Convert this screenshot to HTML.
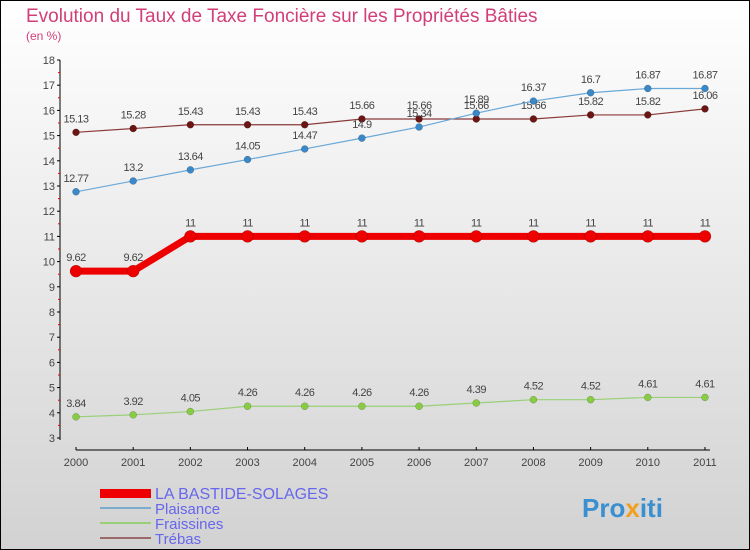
<!DOCTYPE html>
<html><head><meta charset="utf-8"><style>
body{margin:0}
#c{width:750px;height:550px;position:relative;overflow:hidden;font-family:"Liberation Sans",sans-serif}
svg text{font-family:"Liberation Sans",sans-serif}
</style></head><body>
<div id="c">
<svg id="s" width="750" height="550" xmlns="http://www.w3.org/2000/svg">
<defs><linearGradient id="bg" x1="0" y1="0" x2="0" y2="1"><stop offset="0" stop-color="#ffffff"/><stop offset="1" stop-color="#d2d2d2"/></linearGradient></defs>
<rect x="0.5" y="0.5" width="749" height="549" fill="url(#bg)" stroke="#000"/>
<text x="26" y="22" font-size="19" fill="#d23e78">Evolution du Taux de Taxe Foncière sur les Propriétés Bâties</text>
<text x="26" y="40" font-size="12" fill="#d23e78">(en %)</text>
<g id="axes"></g><g id="series"></g>
<g>
<rect x="100" y="489" width="51" height="9" fill="#e00"/>
<text x="155" y="499" font-size="16" fill="#6666ee">LA BASTIDE-SOLAGES</text>
<line x1="100" y1="508" x2="151" y2="508" stroke="#7aaccc" stroke-width="2"/>
<text x="155" y="514" font-size="15" fill="#6666ee">Plaisance</text>
<line x1="100" y1="523" x2="151" y2="523" stroke="#99d077" stroke-width="2"/>
<text x="155" y="529" font-size="15" fill="#6666ee">Fraissines</text>
<line x1="100" y1="538" x2="151" y2="538" stroke="#9a6a6a" stroke-width="2"/>
<text x="155" y="544" font-size="15" fill="#6666ee">Trébas</text>
</g>
<text x="582" y="517" font-size="26" font-weight="bold" fill="#3a8fd0">Pro<tspan fill="#f0a020">x</tspan>iti</text>
</svg></div>
<script>
const years=["2000","2001","2002","2003","2004","2005","2006","2007","2008","2009","2010","2011"];
const yTicks=[3,4,5,6,7,8,9,10,11,12,13,14,15,16,17,18];
const bastide=[9.62,9.62,11,11,11,11,11,11,11,11,11,11];
const plaisance=[12.77,13.2,13.64,14.05,14.47,14.9,15.34,15.89,16.37,16.7,16.87,16.87];
const fraissines=[3.84,3.92,4.05,4.26,4.26,4.26,4.26,4.39,4.52,4.52,4.61,4.61];
const trebas=[15.13,15.28,15.43,15.43,15.43,15.66,15.66,15.66,15.66,15.82,15.82,16.06];
const NS="http://www.w3.org/2000/svg";
const X=i=>76+i*57.18;
const Y=v=>438-(v-3)*25.2;
function mk(tag,attrs,parent){const e=document.createElementNS(NS,tag);for(const k in attrs)e.setAttribute(k,attrs[k]);parent.appendChild(e);return e;}
const ax=document.getElementById('axes'),sg=document.getElementById('series');
let a=mk('line',{x1:60,y1:Y(18),x2:60,y2:Y(3)+2,stroke:'#000'},ax);


yTicks.forEach(t=>{
 let l=mk('line',{x1:57,y1:Y(t),x2:60,y2:Y(t),stroke:'#000'},ax);
 
 
 if(t<18){let m=mk('line',{x1:58,y1:Y(t+0.5),x2:60,y2:Y(t+0.5),stroke:'#e00'},ax);
 
 }
 let tx=mk('text',{x:55,y:Y(t)+4,'font-size':11,fill:'#444','text-anchor':'end'},ax);tx.textContent=t;
 
 
});
a=mk('line',{x1:X(0),y1:450,x2:X(11)+5,y2:450,stroke:'#000'},ax);


years.forEach((y,i)=>{
 let l=mk('line',{x1:X(i),y1:447,x2:X(i),y2:450,stroke:'#000'},ax);
 
 
 let tx=mk('text',{x:X(i),y:466,'font-size':11,fill:'#444','text-anchor':'middle'},ax);tx.textContent=y;
 
 
});
function series(data,color,w,r,ptColor,name){
 const g=mk('g',{},sg);
 
 
 let p=mk('polyline',{points:data.map((v,i)=>X(i)+','+Y(v)).join(' '),fill:'none',stroke:color,'stroke-width':w,'stroke-linejoin':'round'},g);
 
 
 data.forEach((v,i)=>{
  let c=mk('circle',{cx:X(i),cy:Y(v),r:r,fill:ptColor,stroke:'rgba(0,0,0,0.3)','stroke-width':0.5},g);
  
  
  let t=mk('text',{x:X(i),y:Y(v)-10,'font-size':11,fill:'#444','text-anchor':'middle','letter-spacing':'-0.5'},g);t.textContent=v;
  
  
 });
}
series(trebas,'#8b3a3a',1.2,3.5,'#6b1515','trebas');
series(plaisance,'#6aa8d8',1.2,3.5,'#3a88c8','plaisance');
series(fraissines,'#99d077',1.2,3.5,'#88cc44','fraissines');
series(bastide,'#ee0000',7,6,'#ee0000','la-bastide');
</script>
</body></html>
